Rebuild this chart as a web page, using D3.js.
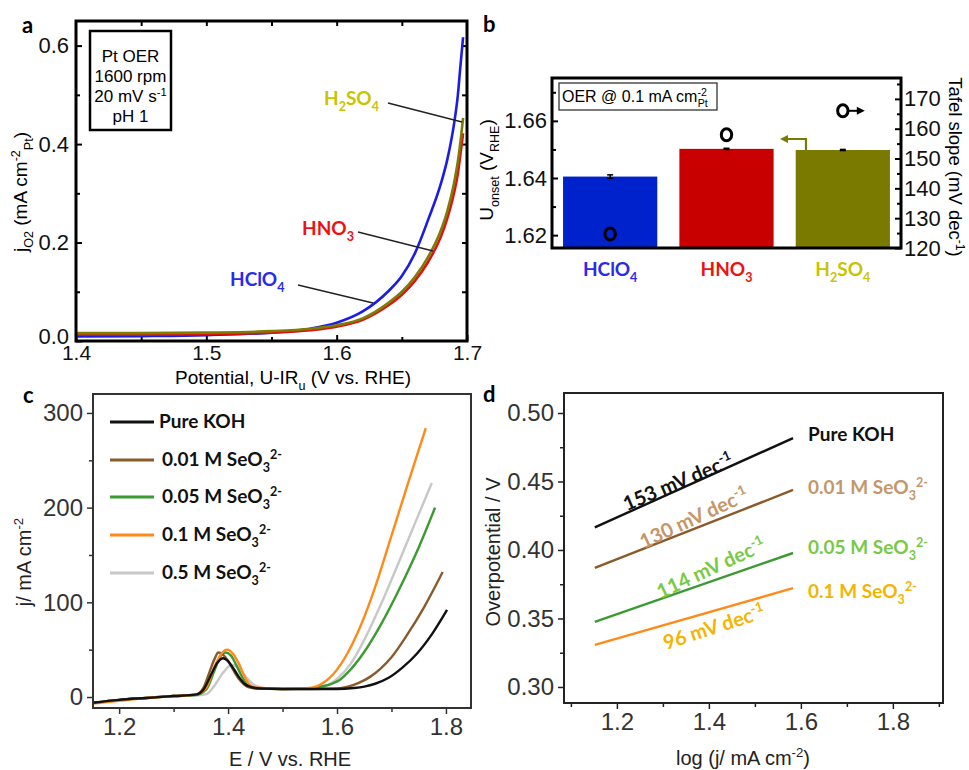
<!DOCTYPE html>
<html>
<head>
<meta charset="utf-8">
<script src="https://cdn.jsdelivr.net/npm/d3@7"></script>
<style>
  body { margin: 0; background: #fff; }
  svg { display: block; }
  text { font-family: "Liberation Sans", Arial, sans-serif; }
  .bold { font-family: Lato, "Open Sans", sans-serif; font-weight: bold; }
</style>
</head>
<body>
<svg id="fig" width="969" height="770"></svg>
<script>
// ---- panel a : Pt OER polarisation curves ----
var potA = [1.40, 1.45, 1.50, 1.55, 1.58, 1.60, 1.62, 1.64, 1.65, 1.66, 1.67, 1.68, 1.685, 1.69, 1.693, 1.695, 1.697]
var jHClO4 = [0.009, 0.010, 0.012, 0.017, 0.025, 0.037, 0.060, 0.102, 0.132, 0.178, 0.245, 0.320, 0.370, 0.440, 0.500, 0.560, 0.617]
var jHNO3 = [0.013, 0.013, 0.014, 0.017, 0.022, 0.029, 0.043, 0.073, 0.094, 0.122, 0.160, 0.212, 0.250, 0.300, 0.340, 0.380, 0.422]
var jH2SO4 = [0.016, 0.016, 0.017, 0.020, 0.025, 0.032, 0.046, 0.078, 0.100, 0.130, 0.170, 0.225, 0.265, 0.320, 0.365, 0.405, 0.453]
var ticksA_x = [1.4, 1.5, 1.6, 1.7]
var ticksA_y = [0.0, 0.2, 0.4, 0.6]

// ---- panel b : onset potential + Tafel slope ----
var acids = ["HClO4", "HNO3", "H2SO4"]
var onset = [1.6405, 1.6502, 1.6498]
var onsetErr = [0.0006, 0.0002, 0.0002]
var tafel = [124.7, 158, 166]
var ticksB_left = [1.62, 1.64, 1.66]
var ticksB_right = [120, 130, 140, 150, 160, 170]

// ---- panel c : LSV in KOH with selenite ----
var seriesC = ["Pure KOH", "0.01 M", "0.05 M", "0.1 M", "0.5 M"]
var eKOH = [1.152, 1.20, 1.25, 1.30, 1.34, 1.355, 1.37, 1.38, 1.391, 1.40, 1.41, 1.42, 1.43, 1.44, 1.46, 1.50, 1.55, 1.60, 1.63, 1.65, 1.67, 1.694, 1.72, 1.747, 1.775, 1.802]
var jKOH = [-6, -3, -1, 1, 2.5, 8, 25, 36, 41, 38, 30, 21, 14, 11, 9, 8.5, 8.5, 8.5, 9.5, 11, 14, 20, 31, 46, 67, 92]
var e001 = [1.152, 1.20, 1.25, 1.30, 1.34, 1.355, 1.365, 1.375, 1.382, 1.39, 1.40, 1.41, 1.42, 1.43, 1.44, 1.46, 1.50, 1.55, 1.60, 1.62, 1.64, 1.66, 1.68, 1.70, 1.728, 1.76, 1.794]
var j001 = [-6, -3, -1, 1, 2.5, 10, 25, 40, 47, 45, 38, 28, 19, 13, 10, 9, 8.5, 8.5, 9, 11, 15, 21, 30, 42, 65, 95, 132]
var e005 = [1.152, 1.20, 1.25, 1.30, 1.34, 1.36, 1.375, 1.385, 1.395, 1.405, 1.415, 1.425, 1.435, 1.45, 1.50, 1.55, 1.57, 1.59, 1.605, 1.62, 1.648, 1.68, 1.716, 1.75, 1.78]
var j005 = [-6, -3, -1, 1, 2, 8, 28, 42, 47, 44, 34, 22, 13, 9, 8.5, 9, 11, 14, 18, 26, 46, 76, 116, 158, 200]
var e01 = [1.152, 1.20, 1.25, 1.30, 1.34, 1.36, 1.375, 1.388, 1.398, 1.41, 1.42, 1.43, 1.44, 1.45, 1.50, 1.54, 1.556, 1.575, 1.593, 1.62, 1.644, 1.67, 1.697, 1.73, 1.763]
var j01 = [-7, -4, -1, 1, 2.5, 10, 32, 46, 50, 45, 35, 22, 13, 10, 8.5, 9, 10, 15, 24, 47, 76, 116, 165, 225, 284]
var e05 = [1.152, 1.20, 1.25, 1.30, 1.34, 1.36, 1.375, 1.39, 1.407, 1.42, 1.435, 1.45, 1.47, 1.50, 1.55, 1.57, 1.60, 1.625, 1.648, 1.68, 1.719, 1.745, 1.774]
var j05 = [-6, -3, -1, 1, 1.5, 3, 12, 25, 34, 30, 20, 12, 9, 8.5, 9, 10, 19, 35, 58, 97, 150, 186, 226]

// ---- panel d : Tafel plots ----
var logJ = [1.152, 1.583]
var etaKOH = [0.4165, 0.4817]
var eta001 = [0.3869, 0.4438]
var eta005 = [0.3475, 0.3978]
var eta01 = [0.3307, 0.3722]
var slopeLabels = ["153", "130", "114", "96"]

var svg = d3.select("#fig")

// text with sub/superscripts: parts = [[text, "sub"|"sup"|null, dx]]
function rich(t, parts, fs) {
    var off = 0
    parts.forEach(function(p) {
        var target = p[1] === "sub" ? fs * 0.3 : p[1] === "sup" ? -fs * 0.38 : 0
        var ts = t.append("tspan")
            .attr("dy", target - off)
            .attr("font-size", p[1] ? fs * 0.66 : fs)
            .text(p[0])
        if (p[2]) ts.attr("dx", p[2])
        off = target
    })
    return t
}

function axisGroup(g, ax, tx, ty) {
    var a = g.append("g").attr("transform", "translate(" + tx + "," + ty + ")").call(ax)
    a.select(".domain").remove()
    return a
}

function frame(g, x0, y0, x1, y1, sw, col) {
    g.append("rect").attr("x", x0).attr("y", y0)
        .attr("width", x1 - x0).attr("height", y1 - y0)
        .attr("fill", "none").attr("stroke", col).attr("stroke-width", sw)
}

function panelLetter(ch, x, y) {
    svg.append("text").attr("class", "bold").attr("x", x).attr("y", y)
        .attr("font-size", 22).text(ch)
}

// ================= panel a =================
;(function() {
    var L = 76, R = 467, T = 21, B = 341
    var x = d3.scaleLinear().domain([1.4, 1.7]).range([L, R])
    var y = d3.scaleLinear().domain([0, 0.65]).range([B, T])
    var g = svg.append("g")

    axisGroup(g, d3.axisBottom(x).tickValues(ticksA_x).tickSize(-6).tickPadding(4).tickFormat(d3.format(".1f")), 0, B)
        .selectAll("text").attr("font-size", 21)
    axisGroup(g, d3.axisBottom(x).tickValues([1.45, 1.55, 1.65]).tickSize(-4).tickFormat(""), 0, B)
    axisGroup(g, d3.axisTop(x).tickValues(d3.range(1.45, 1.7, 0.05)).tickSize(-5).tickFormat(""), 0, T)
    axisGroup(g, d3.axisLeft(y).tickValues(ticksA_y).tickSize(-6).tickPadding(7).tickFormat(d3.format(".1f")), L, 0)
        .selectAll("text").attr("font-size", 22).attr("dy", function(d) { return d === 0 ? "0.1em" : "0.32em" })
    axisGroup(g, d3.axisLeft(y).tickValues([0.1, 0.3, 0.5]).tickSize(-4).tickFormat(""), L, 0)
    axisGroup(g, d3.axisRight(y).tickValues([0.1, 0.2, 0.3, 0.4, 0.5, 0.6]).tickSize(-5).tickFormat(""), R, 0)
    g.selectAll(".tick line").attr("stroke", "#000").attr("stroke-width", 2)
    g.selectAll(".tick text").attr("fill", "#111").attr("font-family", "Liberation Sans, Arial, sans-serif")

    var line = d3.line().x(function(d) { return x(d[0]) }).y(function(d) { return y(d[1]) }).curve(d3.curveMonotoneX)
    var curves = [[jHClO4, "#1c1ce6"], [jHNO3, "#e01010"], [jH2SO4, "#7d7d05"]]
    curves.forEach(function(c) {
        g.append("path").attr("d", line(d3.zip(potA, c[0])))
            .attr("fill", "none").attr("stroke", c[1]).attr("stroke-width", 2.6)
    })
    frame(g, L, T, R, B, 3, "#000")

    // info box
    g.append("rect").attr("x", 90).attr("y", 31).attr("width", 81).attr("height", 99)
        .attr("fill", "#fff").attr("stroke", "#000").attr("stroke-width", 2.5)
    var info = [["Pt OER"], ["1600 rpm"], ["20 mV s", "-1"], ["pH 1"]]
    info.forEach(function(r, i) {
        var t = g.append("text").attr("x", 130.5).attr("y", 62 + i * 20).attr("text-anchor", "middle")
        if (r.length > 1) rich(t, [[r[0]], [r[1], "sup"]], 17)
        else t.attr("font-size", 17).text(r[0])
    })

    // annotations
    var ann = [
        { parts: [["H"], ["2", "sub"], ["SO"], ["4", "sub"]], col: "#c8c400", tx: 324, ty: 105, l: [388, 103, 462, 122] },
        { parts: [["HNO"], ["3", "sub"]], col: "#ee1111", tx: 302, ty: 235, l: [358, 232, 433, 251] },
        { parts: [["HClO"], ["4", "sub"]], col: "#2a2aee", tx: 230, ty: 286, l: [298, 285, 373, 303] }
    ]
    ann.forEach(function(a) {
        var t = g.append("text").attr("class", "bold").attr("x", a.tx).attr("y", a.ty).attr("fill", a.col)
        rich(t, a.parts, 19)
        g.append("line").attr("x1", a.l[0]).attr("y1", a.l[1]).attr("x2", a.l[2]).attr("y2", a.l[3])
            .attr("stroke", "#222").attr("stroke-width", 1.4)
    })

    var xl = g.append("text").attr("x", 293).attr("y", 384).attr("text-anchor", "middle")
    rich(xl, [["Potential, U-IR"], ["u", "sub"], [" (V vs. RHE)"]], 19)
    var yl = g.append("text").attr("transform", "translate(27,192) rotate(-90)").attr("text-anchor", "middle")
    rich(yl, [["j"], ["O2", "sub"], [" (mA cm"], ["-2", "sup"], ["Pt", "sub"], [")"]], 19)
    panelLetter("a", 22, 33)
})()

// ================= panel b =================
;(function() {
    var L = 552, R = 901, T = 78, B = 248
    var x = d3.scaleBand().domain(acids).range([L, R]).paddingInner(0.19).paddingOuter(0.095)
    var yL = d3.scaleLinear().domain([1.6155, 1.675]).range([B, T])
    var yR = d3.scaleLinear().domain([120, 177]).range([B, T])
    var g = svg.append("g")
    var barCol = ["#0022cc", "#c80000", "#7a7a00"]
    var labCol = ["#2a2aee", "#ee1111", "#c8c400"]

    g.selectAll(".bar").data(acids).enter().append("rect")
        .attr("x", function(d) { return x(d) })
        .attr("y", function(d, i) { return yL(onset[i]) })
        .attr("width", x.bandwidth())
        .attr("height", function(d, i) { return B - yL(onset[i]) })
        .attr("fill", function(d, i) { return barCol[i] })

    acids.forEach(function(d, i) {
        var cx = x(d) + x.bandwidth() / 2
        var y1 = yL(onset[i] + onsetErr[i]), y2 = yL(onset[i] - onsetErr[i])
        g.append("line").attr("x1", cx).attr("x2", cx).attr("y1", y1).attr("y2", y2).attr("stroke", "#000").attr("stroke-width", 1.5)
        g.append("line").attr("x1", cx - 3).attr("x2", cx + 3).attr("y1", y1).attr("y2", y1).attr("stroke", "#000").attr("stroke-width", 1.5)
        g.append("line").attr("x1", cx - 3).attr("x2", cx + 3).attr("y1", y2).attr("y2", y2).attr("stroke", "#000").attr("stroke-width", 1.5)
        g.append("ellipse").attr("cx", cx).attr("cy", yR(tafel[i])).attr("rx", 5.2).attr("ry", 6)
            .attr("fill", "none").attr("stroke", "#000").attr("stroke-width", 3)
        var t = g.append("text").attr("class", "bold").attr("x", cx).attr("y", 276)
            .attr("text-anchor", "middle").attr("fill", labCol[i])
        var parts = i === 0 ? [["HClO"], ["4", "sub"]] : i === 1 ? [["HNO"], ["3", "sub"]] : [["H"], ["2", "sub"], ["SO"], ["4", "sub"]]
        rich(t, parts, 19)
    })

    // arrows showing which axis
    var cx3 = x(acids[2]) + x.bandwidth() / 2, cy3 = yR(tafel[2])
    g.append("line").attr("x1", cx3 + 6).attr("x2", cx3 + 16).attr("y1", cy3).attr("y2", cy3).attr("stroke", "#000").attr("stroke-width", 2)
    g.append("path").attr("d", "M" + (cx3 + 22) + "," + cy3 + "l-8,-4l0,8z").attr("fill", "#000")
    var ax0 = 806, ay0 = yL(onset[2])
    g.append("path").attr("d", "M" + ax0 + "," + ay0 + "V" + (ay0 - 11) + "H" + 788)
        .attr("fill", "none").attr("stroke", "#7a7a00").attr("stroke-width", 2.2)
    g.append("path").attr("d", "M" + 780 + "," + (ay0 - 11) + "l8,-4l0,8z").attr("fill", "#7a7a00")

    axisGroup(g, d3.axisLeft(yL).tickValues(ticksB_left).tickSize(-6).tickPadding(5).tickFormat(d3.format(".2f")), L, 0)
    axisGroup(g, d3.axisLeft(yL).tickValues([1.63, 1.65, 1.67]).tickSize(-4).tickFormat(""), L, 0)
    axisGroup(g, d3.axisRight(yR).tickValues(ticksB_right).tickSize(-6).tickPadding(3).tickFormat(d3.format("d")), R, 0)
    axisGroup(g, d3.axisRight(yR).tickValues([125, 135, 145, 155, 165, 175]).tickSize(-4).tickFormat(""), R, 0)
    g.selectAll(".tick line").attr("stroke", "#000").attr("stroke-width", 2)
    g.selectAll(".tick text").attr("font-size", 22).attr("fill", "#111").attr("font-family", "Liberation Sans, Arial, sans-serif")
    frame(g, L, T, R, B, 3, "#000")

    g.append("rect").attr("x", 559).attr("y", 83).attr("width", 158).attr("height", 27)
        .attr("fill", "#fff").attr("stroke", "#333").attr("stroke-width", 1.3)
    var bt = g.append("text").attr("x", 562).attr("y", 102)
    rich(bt, [["OER @ 0.1 mA cm"], ["-2", "sup"], ["Pt", "sub", -9]], 16)

    var yl = g.append("text").attr("transform", "translate(493,170) rotate(-90)").attr("text-anchor", "middle")
    rich(yl, [["U"], ["onset", "sub"], [" (V"], ["RHE", "sub"], [")"]], 19)
    var yr = g.append("text").attr("transform", "translate(949,167) rotate(90)").attr("text-anchor", "middle")
    rich(yr, [["Tafel slope (mV dec"], ["-1", "sup"], [")"]], 18.5)
    panelLetter("b", 483, 32)
})()

// ================= panel c =================
;(function() {
    var L = 93, R = 471, T = 394, B = 708
    var x = d3.scaleLinear().domain([1.152, 1.846]).range([L, R])
    var y = d3.scaleLinear().domain([-11.6, 320]).range([B, T])
    var g = svg.append("g")
    var cols = ["#111111", "#8b5a2b", "#3d9a32", "#ff8a1a", "#c8c8c8"]
    var data = [[eKOH, jKOH], [e001, j001], [e005, j005], [e01, j01], [e05, j05]]

    axisGroup(g, d3.axisBottom(x).tickValues([1.2, 1.4, 1.6, 1.8]).tickSize(6).tickPadding(4).tickFormat(d3.format(".1f")), 0, B)
    axisGroup(g, d3.axisBottom(x).tickValues([1.3, 1.5, 1.7]).tickSize(4).tickFormat(""), 0, B)
    axisGroup(g, d3.axisLeft(y).tickValues([0, 100, 200, 300]).tickSize(6).tickPadding(4), L, 0)
    axisGroup(g, d3.axisLeft(y).tickValues([50, 150, 250]).tickSize(4).tickFormat(""), L, 0)
    g.selectAll(".tick line").attr("stroke", "#333").attr("stroke-width", 1.5)
    g.selectAll(".tick text").attr("font-size", 24).attr("fill", "#333").attr("font-family", "Liberation Sans, Arial, sans-serif")

    var line = d3.line().x(function(d) { return x(d[0]) }).y(function(d) { return y(d[1]) }).curve(d3.curveMonotoneX)
    var order = [4, 2, 1, 3, 0]
    order.forEach(function(i) {
        g.append("path").attr("d", line(d3.zip(data[i][0], data[i][1])))
            .attr("fill", "none").attr("stroke", cols[i]).attr("stroke-width", 2.4)
    })
    frame(g, L, T, R, B, 2, "#333")

    var legY = [422, 460, 497, 535, 573]
    seriesC.forEach(function(s, i) {
        g.append("line").attr("x1", 110).attr("x2", 154).attr("y1", legY[i]).attr("y2", legY[i])
            .attr("stroke", cols[i]).attr("stroke-width", 3)
        var t = g.append("text").attr("class", "bold").attr("x", i === 0 ? 159 : 162).attr("y", legY[i] + 6).attr("fill", "#111")
        if (i === 0) t.attr("font-size", 19).text(s)
        else rich(t, [[s + " SeO"], ["3", "sub"], ["2-", "sup"]], 19)
    })

    var yl = g.append("text").attr("transform", "translate(31,562) rotate(-90)").attr("text-anchor", "middle").attr("fill", "#222")
    rich(yl, [["j/ mA cm"], ["-2", "sup"]], 20)
    g.append("text").attr("x", 290).attr("y", 766).attr("text-anchor", "middle").attr("font-size", 20).attr("fill", "#222").text("E / V vs. RHE")
    panelLetter("c", 23, 403)
})()

// ================= panel d =================
;(function() {
    var L = 564, R = 943, T = 393, B = 703
    var x = d3.scaleLinear().domain([1.085, 1.909]).range([L, R])
    var y = d3.scaleLinear().domain([0.2883, 0.5146]).range([B, T])
    var g = svg.append("g")
    var cols = ["#111111", "#8b5a2b", "#3d9a32", "#ff8a1a"]
    var labCols = ["#111111", "#c4966a", "#7ac943", "#f5b400"]
    var etas = [etaKOH, eta001, eta005, eta01]
    var names = ["Pure KOH", "0.01 M", "0.05 M", "0.1 M"]

    axisGroup(g, d3.axisBottom(x).tickValues([1.2, 1.4, 1.6, 1.8]).tickSize(6).tickPadding(4).tickFormat(d3.format(".1f")), 0, B)
    axisGroup(g, d3.axisBottom(x).tickValues([1.1, 1.3, 1.5, 1.7, 1.9]).tickSize(4).tickFormat(""), 0, B)
    axisGroup(g, d3.axisLeft(y).tickValues([0.30, 0.35, 0.40, 0.45, 0.50]).tickSize(6).tickPadding(4).tickFormat(d3.format(".2f")), L, 0)
    axisGroup(g, d3.axisLeft(y).tickValues([0.325, 0.375, 0.425, 0.475]).tickSize(4).tickFormat(""), L, 0)
    g.selectAll(".tick line").attr("stroke", "#222").attr("stroke-width", 1.5)
    g.selectAll(".tick text").attr("font-size", 24).attr("fill", "#333").attr("font-family", "Liberation Sans, Arial, sans-serif")

    var line = d3.line().x(function(d) { return x(d[0]) }).y(function(d) { return y(d[1]) })
    etas.forEach(function(e, i) {
        g.append("path").attr("d", line(d3.zip(logJ, e)))
            .attr("fill", "none").attr("stroke", cols[i]).attr("stroke-width", 2.4)
    })
    frame(g, L, T, R, B, 2, "#222")

    var labY = [441, 494, 554, 598]
    names.forEach(function(s, i) {
        var t = g.append("text").attr("class", "bold").attr("x", 808).attr("y", labY[i]).attr("fill", labCols[i])
        if (i === 0) t.attr("font-size", 19).text(s)
        else rich(t, [[s + " SeO"], ["3", "sub"], ["2-", "sup"]], 19)
    })

    var sl = [[678, 482, -23], [694, 518, -25], [711, 568, -25], [714, 627, -18]]
    sl.forEach(function(p, i) {
        var t = g.append("text").attr("class", "bold")
            .attr("transform", "translate(" + p[0] + "," + p[1] + ") rotate(" + p[2] + ")")
            .attr("text-anchor", "middle").attr("fill", labCols[i])
        rich(t, [[slopeLabels[i] + " mV dec", null, 0], ["-1", "sup"]], 20)
        t.select("tspan").attr("dy", 7)
    })

    g.append("text").attr("transform", "translate(500,552) rotate(-90)").attr("text-anchor", "middle")
        .attr("font-size", 20).attr("fill", "#222").text("Overpotential / V")
    var xl = g.append("text").attr("x", 743).attr("y", 765).attr("text-anchor", "middle").attr("fill", "#222")
    rich(xl, [["log (j/ mA cm"], ["-2", "sup"], [")"]], 20)
    panelLetter("d", 483, 402)
})()
</script>
</body>
</html>
